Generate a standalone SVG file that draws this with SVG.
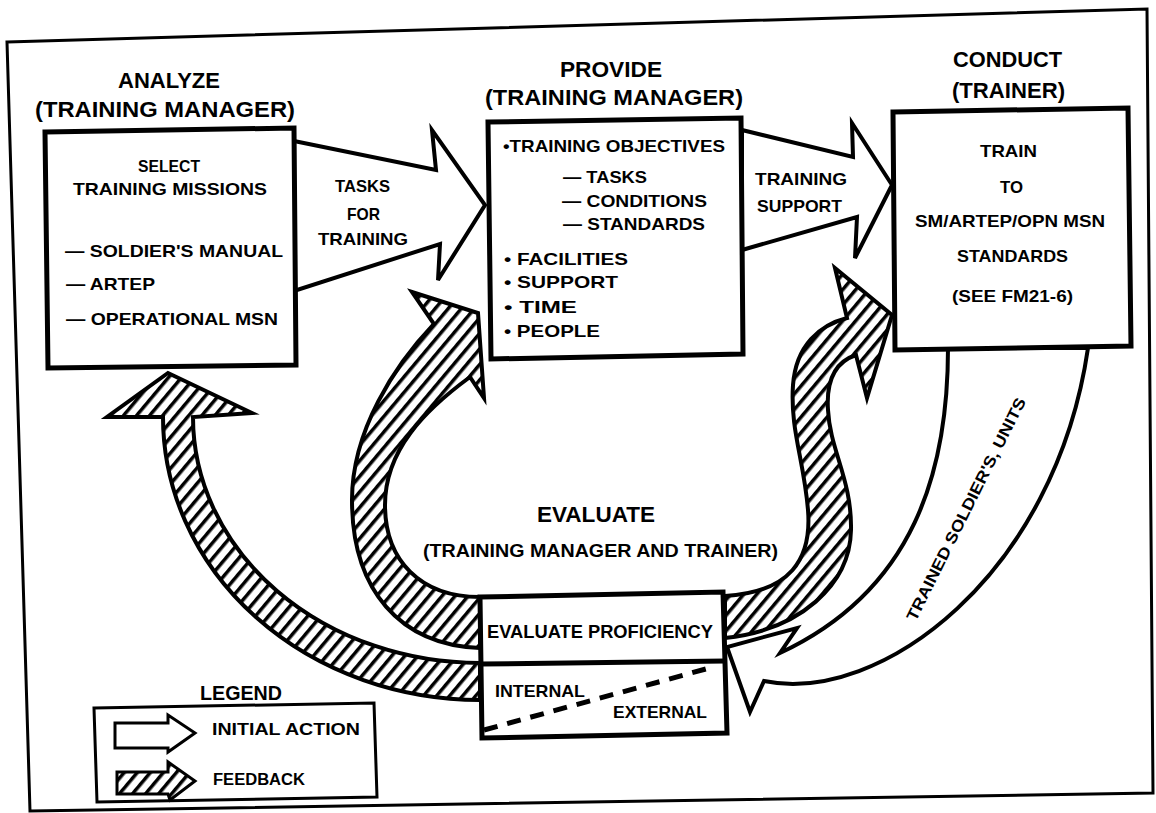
<svg xmlns="http://www.w3.org/2000/svg" width="1156" height="813" viewBox="0 0 1156 813">
<defs>
<pattern id="hatch" patternUnits="userSpaceOnUse" width="10" height="10" patternTransform="rotate(40)">
<rect width="10" height="10" fill="#fff"/>
<rect width="3.5" height="10" fill="#000"/>
</pattern>
<style>
.t{font-family:'Liberation Sans',Arial,sans-serif;font-weight:700;fill:#000}
.h{font-size:22px}
.b{font-size:17px}
.s{font-size:16px}
.box{fill:#fff;stroke:#000;stroke-width:5;stroke-linejoin:miter}
.wa{fill:#fff;stroke:#000;stroke-width:4;stroke-linejoin:miter}
.fb{fill:url(#hatch);stroke:#000;stroke-width:4;stroke-linejoin:miter}
</style>
</defs>
<rect width="1156" height="813" fill="#fff"/>
<polygon points="7,42 1147,9 1153,793 30,811" fill="none" stroke="#000" stroke-width="3"/>

<g id="connectors">
<path class="wa" d="M294,141 L436,170 L432,130 L485,205 L438,280 L440,244 L294,291 Z"/>
<path class="wa" d="M742,130 L853,157 L852,123 L892,185 L855,258 L857,217 L742,250 Z"/>
<path class="wa" d="M948,348 C948,470 915,590 780,653 L797,628 L727,647 L750,712 L764,681 C880,705 1055,575 1088,348 Z"/>
<path class="fb" d="M480,663 A287,246 0 0 1 193,417 L252,413 L168,373 L107,417 L163,417 A317,283 0 0 0 480,700 Z"/>
<path class="fb" d="M480,597 C420,597 385,560 385,505 C385,450 425,410 470,377 L484,398 L478,313 L412,292 L434,324 C395,365 352,430 352,500 C352,590 400,645 480,648 Z"/>
<path class="fb" d="M725,596 C790,592 812,560 808,510 C804,460 790,430 793,385 C796,345 820,325 847,318 L835,268 L892,315 L867,398 L856,355 C835,362 826,380 828,410 C830,450 852,480 851,530 C850,585 800,630 725,638 Z"/>
<text class="t s" x="971" y="511.5" text-anchor="middle" textLength="247" lengthAdjust="spacingAndGlyphs" transform="rotate(-63.4 971 511.5)">TRAINED SOLDIER'S, UNITS</text>
</g>

<g id="analyze">
<text class="t h" x="118" y="88" textLength="102" lengthAdjust="spacingAndGlyphs">ANALYZE</text>
<text class="t h" x="35" y="117" textLength="260" lengthAdjust="spacingAndGlyphs">(TRAINING MANAGER)</text>
<polygon class="box" points="45,132 294,128 296,365 48,368"/>
<text class="t b" x="138" y="172" textLength="62" lengthAdjust="spacingAndGlyphs">SELECT</text>
<text class="t b" x="73" y="195" textLength="194" lengthAdjust="spacingAndGlyphs">TRAINING MISSIONS</text>
<text class="t b" x="65" y="257" textLength="218" lengthAdjust="spacingAndGlyphs">— SOLDIER'S MANUAL</text>
<text class="t b" x="66" y="290" textLength="89" lengthAdjust="spacingAndGlyphs">— ARTEP</text>
<text class="t b" x="66" y="325" textLength="212" lengthAdjust="spacingAndGlyphs">— OPERATIONAL MSN</text>
<text class="t b" x="335" y="192" textLength="55" lengthAdjust="spacingAndGlyphs">TASKS</text>
<text class="t b" x="347" y="220" textLength="33" lengthAdjust="spacingAndGlyphs">FOR</text>
<text class="t b" x="318" y="245" textLength="90" lengthAdjust="spacingAndGlyphs">TRAINING</text>
</g>

<g id="provide">
<text class="t h" x="560" y="77" textLength="102" lengthAdjust="spacingAndGlyphs">PROVIDE</text>
<text class="t h" x="485" y="105" textLength="258" lengthAdjust="spacingAndGlyphs">(TRAINING MANAGER)</text>
<polygon class="box" points="488,122 741,118 743,354 491,359"/>
<text class="t b" x="503" y="152" textLength="222" lengthAdjust="spacingAndGlyphs">•TRAINING OBJECTIVES</text>
<text class="t b" x="563" y="183" textLength="84" lengthAdjust="spacingAndGlyphs">— TASKS</text>
<text class="t b" x="562" y="207" textLength="145" lengthAdjust="spacingAndGlyphs">— CONDITIONS</text>
<text class="t b" x="563" y="230" textLength="142" lengthAdjust="spacingAndGlyphs">— STANDARDS</text>
<text class="t b" x="504" y="265" textLength="124" lengthAdjust="spacingAndGlyphs">•  FACILITIES</text>
<text class="t b" x="504" y="288" textLength="114" lengthAdjust="spacingAndGlyphs">•  SUPPORT</text>
<text class="t b" x="504" y="313" textLength="73" lengthAdjust="spacingAndGlyphs">•  TIME</text>
<text class="t b" x="504" y="337" textLength="96" lengthAdjust="spacingAndGlyphs">•  PEOPLE</text>
<text class="t b" x="755" y="185" textLength="92" lengthAdjust="spacingAndGlyphs">TRAINING</text>
<text class="t b" x="757" y="212" textLength="85" lengthAdjust="spacingAndGlyphs">SUPPORT</text>
</g>

<g id="conduct">
<text class="t h" x="953" y="67" textLength="109" lengthAdjust="spacingAndGlyphs">CONDUCT</text>
<text class="t h" x="952" y="98" textLength="113" lengthAdjust="spacingAndGlyphs">(TRAINER)</text>
<polygon class="box" points="893,112 1128,108 1131,346 895,350"/>
<text class="t b" x="980" y="157" textLength="57" lengthAdjust="spacingAndGlyphs">TRAIN</text>
<text class="t b" x="1000" y="193" textLength="23" lengthAdjust="spacingAndGlyphs">TO</text>
<text class="t b" x="915" y="227" textLength="190" lengthAdjust="spacingAndGlyphs">SM/ARTEP/OPN MSN</text>
<text class="t b" x="957" y="262" textLength="111" lengthAdjust="spacingAndGlyphs">STANDARDS</text>
<text class="t b" x="952" y="302" textLength="121" lengthAdjust="spacingAndGlyphs">(SEE FM21-6)</text>
</g>

<g id="evaluate">
<text class="t h" x="537" y="522" textLength="118" lengthAdjust="spacingAndGlyphs">EVALUATE</text>
<text class="t" style="font-size:19px" x="423" y="557" textLength="355" lengthAdjust="spacingAndGlyphs">(TRAINING MANAGER AND TRAINER)</text>
<polygon class="box" points="480,597 723,592 727,733 482,738"/>
<line x1="481" y1="664" x2="725" y2="661" stroke="#000" stroke-width="5"/>
<text class="t" style="font-size:18px" x="487" y="638" textLength="226" lengthAdjust="spacingAndGlyphs">EVALUATE PROFICIENCY</text>
<text class="t b" x="495" y="697" textLength="90" lengthAdjust="spacingAndGlyphs">INTERNAL</text>
<text class="t b" x="613" y="718" textLength="94" lengthAdjust="spacingAndGlyphs">EXTERNAL</text>
<line x1="484" y1="730" x2="713" y2="667" stroke="#000" stroke-width="5" stroke-dasharray="14 10"/>
</g>

<g id="legend">
<text class="t" style="font-size:21px" x="200" y="700" textLength="82" lengthAdjust="spacingAndGlyphs">LEGEND</text>
<polygon points="94,708 374,703 377,797 97,802" fill="#fff" stroke="#000" stroke-width="3"/>
<path class="wa" style="stroke-width:3" d="M115,723 L168,723 L168,715 L195,733 L168,752 L168,748 L115,748 Z"/>
<text class="t s" x="212" y="735" textLength="148" lengthAdjust="spacingAndGlyphs">INITIAL ACTION</text>
<path class="fb" style="stroke-width:3" d="M117,772 L168,772 L168,762 L195,781 L170,800 L168,794 L117,794 Z"/>
<text class="t s" x="213" y="785" textLength="92" lengthAdjust="spacingAndGlyphs">FEEDBACK</text>
</g>
</svg>
